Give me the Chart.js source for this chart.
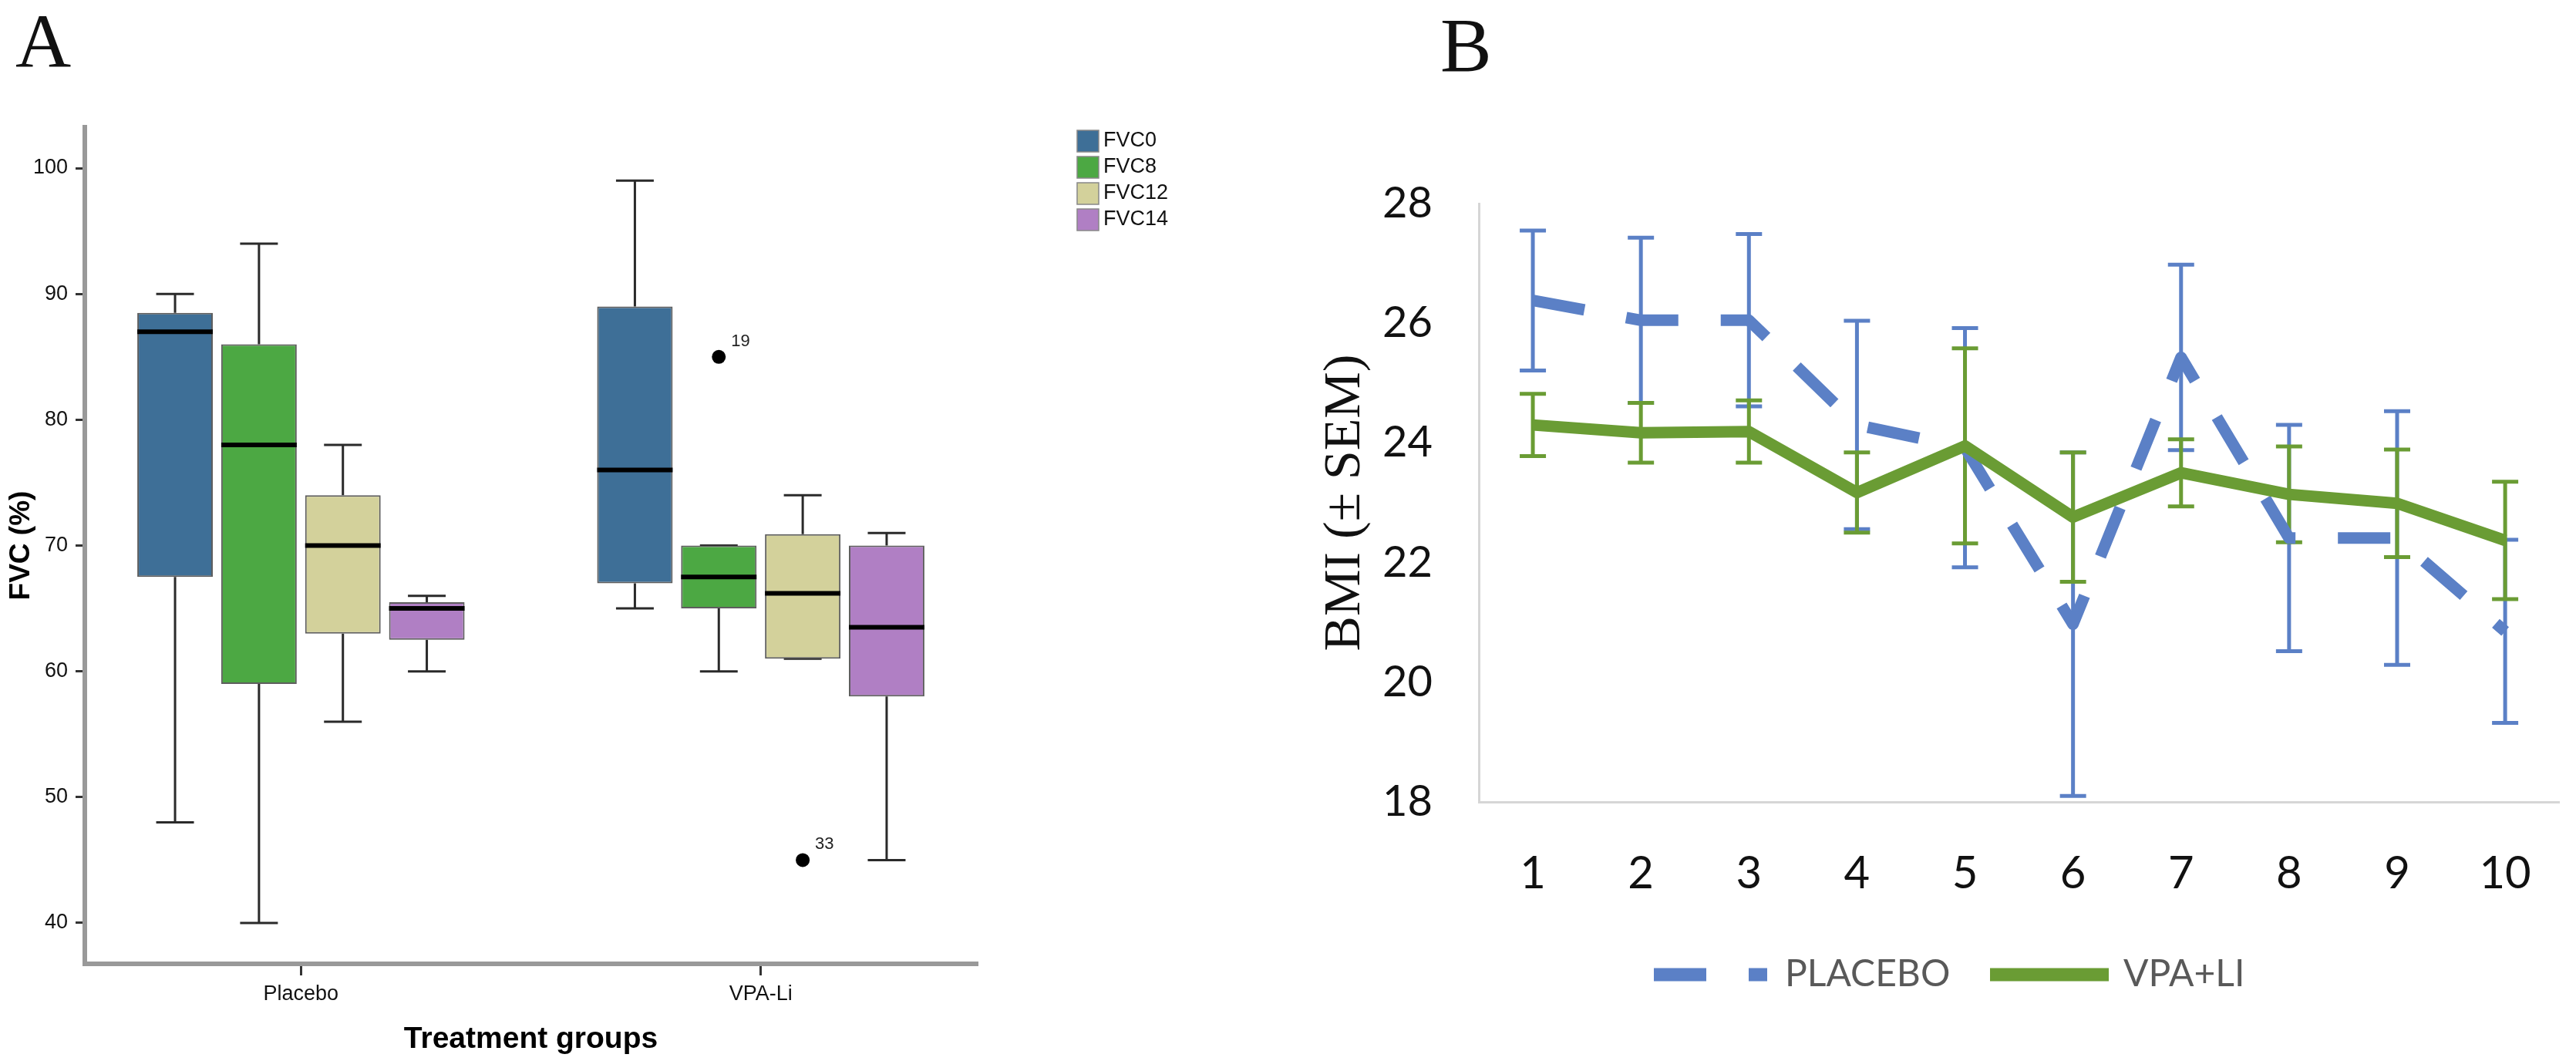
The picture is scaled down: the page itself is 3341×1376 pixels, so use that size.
<!DOCTYPE html>
<html>
<head>
<meta charset="utf-8">
<script src="https://cdn.jsdelivr.net/npm/chart.js@4.4.0/dist/chart.umd.min.js"></script>
<style>
	html, body { margin: 0; padding: 0; background: #fff; }
	body { width: 3341px; height: 1376px; position: relative; overflow: hidden; }
	.letter { position: absolute; font-family: 'Liberation Serif', 'Times New Roman', serif; font-size: 100px; line-height: 1; color: #111; }
	#wrapA { position: absolute; left: 0; top: 0; width: 1650px; height: 1376px; }
	#wrapB { position: absolute; left: 1650px; top: 0; width: 1691px; height: 1376px; }
</style>
</head>
<body>
<div class="letter" style="left:20px;top:4px">A</div>
<div class="letter" style="left:1868px;top:9px">B</div>
<div id="wrapA"><canvas id="chartA"></canvas></div>
<div id="wrapB"><canvas id="chartB"></canvas></div>
<script>
'use strict';

// ---- panel A: FVC box plots ----
const groupNames = ['Placebo', 'VPA-Li'];
const fvcSeries = ['FVC0', 'FVC8', 'FVC12', 'FVC14'];
const fvcColors = ['#3e6f97', '#4ca843', '#d3d19b', '#b07fc4'];
// per group: [min, q1, median, q3, max]
const fvc0Stats = [[48, 67.5, 87, 88.5, 90], [65, 67, 76, 89, 99]];
const fvc8Stats = [[40, 59, 78, 86, 94], [60, 65, 67.5, 70, 70]];
const fvc12Stats = [[56, 63, 70, 74, 78], [61, 61, 66.2, 70.9, 74]];
const fvc14Stats = [[60, 62.5, 65, 65.5, 66], [45, 58, 63.5, 70, 71]];
const outlierSeries = [1, 2];
const outlierGroup = [1, 1];
const outlierValues = [85, 45];
const outlierIds = ['19', '33'];
const fvcTicks = [40, 50, 60, 70, 80, 90, 100];

// ---- panel B: BMI over time ----
const visits = ['1', '2', '3', '4', '5', '6', '7', '8', '9', '10'];
const placeboMean = [26.38, 26.05, 26.05, 24.3, 23.92, 20.97, 25.43, 22.41, 22.41, 20.85];
const placeboSem = [1.17, 1.38, 1.44, 1.74, 2.0, 2.87, 1.55, 1.89, 2.12, 1.53];
const vpaMean = [24.3, 24.17, 24.19, 23.17, 23.95, 22.76, 23.5, 23.14, 22.99, 22.37];
const vpaSem = [0.52, 0.5, 0.52, 0.67, 1.63, 1.08, 0.56, 0.8, 0.9, 0.98];

const BLUE = '#5b80c6';
const GREEN = '#6a9c34';
const narrow = "'Liberation Sans Narrow', 'Lato', sans-serif";

Chart.defaults.font.family = "'Liberation Sans', Arial, sans-serif";
Chart.defaults.color = '#111';

const allStats = [fvc0Stats, fvc8Stats, fvc12Stats, fvc14Stats];

const boxPlot = {
	id: 'boxPlot',
	beforeDatasetsDraw(chart) {
		const ctx = chart.ctx;
		const y = chart.scales.y;
		ctx.save();
		ctx.strokeStyle = '#2a2a2a';
		ctx.lineWidth = 3;
		chart.data.datasets.forEach((ds, i) => {
			chart.getDatasetMeta(i).data.forEach((bar, j) => {
				const [lo, q1, med, q3, hi] = ds.stats[j];
				const cap = bar.width / 4;
				ctx.beginPath();
				ctx.moveTo(bar.x, y.getPixelForValue(q3));
				ctx.lineTo(bar.x, y.getPixelForValue(hi));
				ctx.moveTo(bar.x - cap, y.getPixelForValue(hi));
				ctx.lineTo(bar.x + cap, y.getPixelForValue(hi));
				ctx.moveTo(bar.x, y.getPixelForValue(q1));
				ctx.lineTo(bar.x, y.getPixelForValue(lo));
				ctx.moveTo(bar.x - cap, y.getPixelForValue(lo));
				ctx.lineTo(bar.x + cap, y.getPixelForValue(lo));
				ctx.stroke();
			});
		});
		ctx.restore();
	},
	afterDatasetsDraw(chart) {
		const ctx = chart.ctx;
		const y = chart.scales.y;
		ctx.save();
		ctx.strokeStyle = '#000';
		ctx.lineWidth = 6;
		chart.data.datasets.forEach((ds, i) => {
			chart.getDatasetMeta(i).data.forEach((bar, j) => {
				const my = y.getPixelForValue(ds.stats[j][2]);
				ctx.beginPath();
				ctx.moveTo(bar.x - bar.width / 2, my);
				ctx.lineTo(bar.x + bar.width / 2, my);
				ctx.stroke();
			});
		});
		// outliers
		ctx.fillStyle = '#000';
		ctx.font = "22px 'Liberation Sans', Arial, sans-serif";
		ctx.textBaseline = 'middle';
		outlierValues.forEach((v, k) => {
			const bar = chart.getDatasetMeta(outlierSeries[k]).data[outlierGroup[k]];
			const py = y.getPixelForValue(v);
			ctx.beginPath();
			ctx.arc(bar.x, py, 9, 0, Math.PI * 2);
			ctx.fill();
			ctx.fillStyle = '#222';
			ctx.fillText(outlierIds[k], bar.x + 16, py - 20);
			ctx.fillStyle = '#000';
		});
		ctx.restore();
	},
	afterDraw(chart) {
		// legend
		const ctx = chart.ctx;
		ctx.save();
		ctx.font = "27px 'Liberation Sans', Arial, sans-serif";
		ctx.textBaseline = 'middle';
		chart.data.datasets.forEach((ds, i) => {
			const cy = 183 + i * 34;
			ctx.fillStyle = ds.backgroundColor;
			ctx.fillRect(1397, cy - 14, 28, 28);
			ctx.strokeStyle = '#888';
			ctx.lineWidth = 1.5;
			ctx.strokeRect(1397, cy - 14, 28, 28);
			ctx.fillStyle = '#111';
			ctx.fillText(ds.label, 1431, cy);
		});
		ctx.restore();
	}
};

new Chart(document.getElementById('chartA'), {
	type: 'bar',
	data: {
		datasets: fvcSeries.map((name, i) => ({
			label: name,
			data: allStats[i].map((s, g) => ({ x: g, y: [s[1], s[3]] })),
			stats: allStats[i],
			backgroundColor: fvcColors[i],
			borderColor: '#5e5e5e',
			borderWidth: 2,
			borderSkipped: false,
			categoryPercentage: 0.73,
			barPercentage: 0.9
		}))
	},
	options: {
		responsive: true,
		maintainAspectRatio: false,
		animation: false,
		layout: { padding: { left: 2, top: 165, right: 383, bottom: 0 } },
		plugins: { legend: { display: false }, tooltip: { enabled: false } },
		scales: {
			x: {
				type: 'linear',
				min: -0.47,
				max: 1.47,
				offset: false,
				afterBuildTicks: (s) => { s.ticks = groupNames.map((g, i) => ({ value: i })); },
				afterFit: (s) => { s.height = 126; },
				grid: { offset: false, drawOnChartArea: false, drawTicks: true, tickLength: 15, color: '#333', lineWidth: 3 },
				border: { color: '#999', width: 6 },
				ticks: { callback: (v) => groupNames[v], font: { size: 27 }, color: '#111', padding: 8, maxRotation: 0 },
				title: { display: true, text: 'Treatment groups', font: { size: 39, weight: 'bold' }, color: '#000', padding: { top: 4, bottom: 4 } }
			},
			y: {
				min: 36.75,
				max: 103.25,
				afterBuildTicks: (s) => { s.ticks = fvcTicks.map((v) => ({ value: v })); },
				afterFit: (s) => { s.width = 108; },
				grid: { drawOnChartArea: false, drawTicks: true, tickLength: 12, color: '#333', lineWidth: 3 },
				border: { color: '#999', width: 6 },
				ticks: { font: { size: 27 }, color: '#111', padding: 10 },
				title: { display: true, text: 'FVC (%)', font: { size: 37, weight: 'bold' }, color: '#000', padding: { top: 4, bottom: 4 } }
			}
		}
	},
	plugins: [boxPlot]
});

const errorBars = {
	id: 'errorBars',
	beforeDatasetsDraw(chart) {
		const ctx = chart.ctx;
		const y = chart.scales.y;
		ctx.save();
		ctx.lineWidth = 5;
		ctx.lineCap = 'butt';
		chart.data.datasets.forEach((ds, i) => {
			ctx.strokeStyle = ds.borderColor;
			chart.getDatasetMeta(i).data.forEach((pt, j) => {
				const top = y.getPixelForValue(ds.data[j] + ds.errors[j]);
				const bot = y.getPixelForValue(ds.data[j] - ds.errors[j]);
				ctx.beginPath();
				ctx.moveTo(pt.x, top);
				ctx.lineTo(pt.x, bot);
				ctx.moveTo(pt.x - 17, top);
				ctx.lineTo(pt.x + 17, top);
				ctx.moveTo(pt.x - 17, bot);
				ctx.lineTo(pt.x + 17, bot);
				ctx.stroke();
			});
		});
		ctx.restore();
	},
	afterDraw(chart) {
		const ctx = chart.ctx;
		const ly = 1264;
		const sets = chart.data.datasets;
		ctx.save();
		ctx.lineWidth = 17;
		ctx.lineCap = 'butt';
		ctx.strokeStyle = sets[0].borderColor;
		ctx.setLineDash(sets[0].borderDash);
		ctx.beginPath();
		ctx.moveTo(495, ly);
		ctx.lineTo(642, ly);
		ctx.stroke();
		ctx.setLineDash([]);
		ctx.strokeStyle = sets[1].borderColor;
		ctx.beginPath();
		ctx.moveTo(931, ly);
		ctx.lineTo(1085, ly);
		ctx.stroke();
		ctx.fillStyle = '#595959';
		ctx.font = '48px ' + narrow;
		ctx.textBaseline = 'middle';
		ctx.fillText(sets[0].label, 665, ly);
		ctx.fillText(sets[1].label, 1104, ly);
		ctx.restore();
	}
};

new Chart(document.getElementById('chartB'), {
	type: 'line',
	data: {
		labels: visits,
		datasets: [
			{
				label: 'PLACEBO',
				data: placeboMean,
				errors: placeboSem,
				borderColor: BLUE,
				borderWidth: 15,
				borderDash: [68, 55],
				borderCapStyle: 'butt',
				borderJoinStyle: 'round',
				pointRadius: 0,
				tension: 0,
				fill: false,
				order: 2
			},
			{
				label: 'VPA+LI',
				data: vpaMean,
				errors: vpaSem,
				borderColor: GREEN,
				borderWidth: 15,
				borderJoinStyle: 'round',
				pointRadius: 0,
				tension: 0,
				fill: false,
				order: 1
			}
		]
	},
	options: {
		responsive: true,
		maintainAspectRatio: false,
		animation: false,
		layout: { padding: { left: 50, top: 264, right: 5, bottom: 0 } },
		plugins: { legend: { display: false }, tooltip: { enabled: false } },
		scales: {
			x: {
				offset: true,
				afterFit: (s) => { s.height = 336; },
				grid: { display: false, drawTicks: false },
				border: { color: '#d6d6d6', width: 3 },
				ticks: { font: { size: 58, family: narrow }, color: '#111', padding: 58, maxRotation: 0 }
			},
			y: {
				min: 18,
				max: 28,
				afterFit: (s) => { s.width = 218; },
				grid: { display: false, drawTicks: false },
				border: { color: '#d6d6d6', width: 3 },
				ticks: { stepSize: 2, font: { size: 56, family: narrow }, color: '#111', padding: 60 },
				title: { display: true, text: 'BMI (± SEM)', font: { size: 68, family: "'Liberation Serif', 'Times New Roman', serif" }, color: '#111', padding: { top: 4, bottom: 4 } }
			}
		}
	},
	plugins: [errorBars]
});
</script>
</body>
</html>
